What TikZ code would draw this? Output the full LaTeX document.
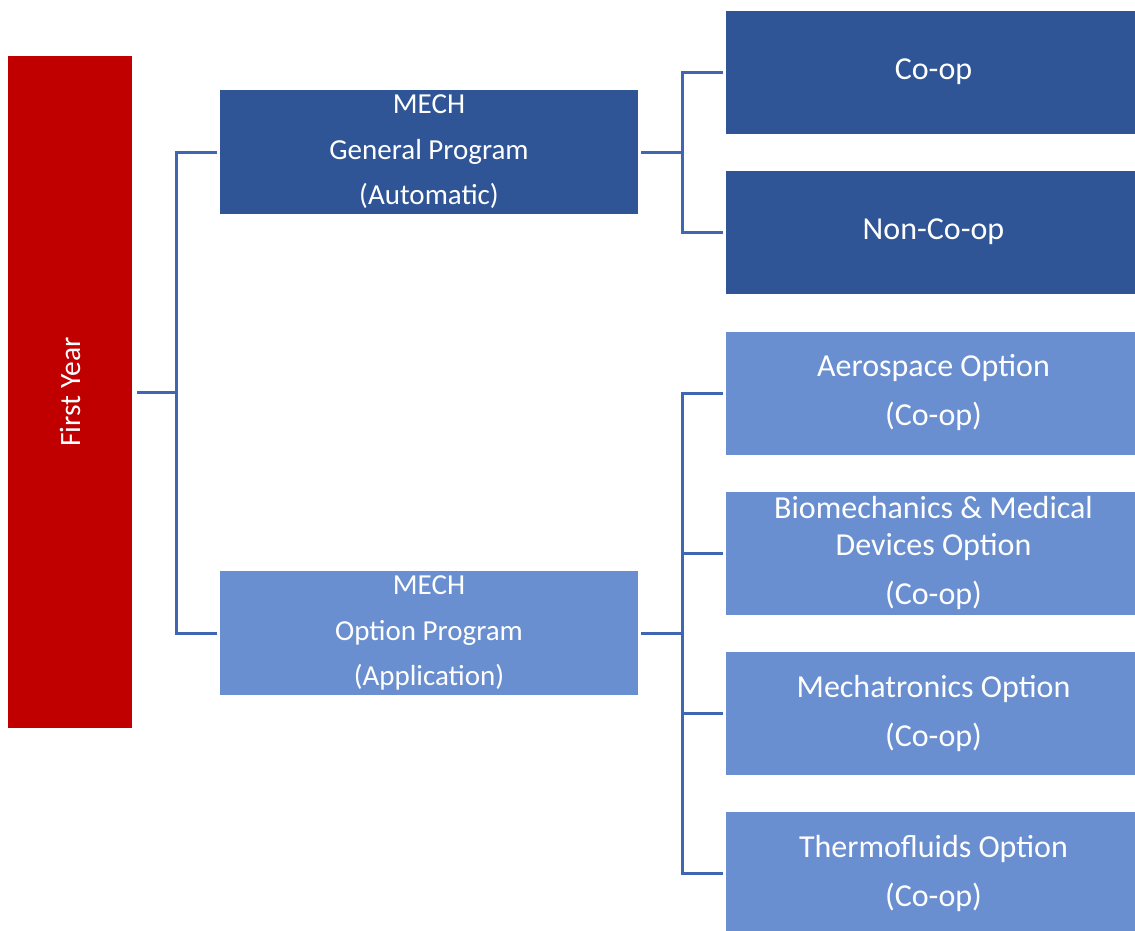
\documentclass[tikz,border=0pt]{standalone}
\usepackage{fontspec}
\setmainfont{Carlito}
\definecolor{fyred}{HTML}{C00000}
\definecolor{darkblue}{HTML}{2F5597}
\definecolor{lightblue}{HTML}{6A8FD0}
\definecolor{linkblue}{HTML}{3F66B3}
\begin{document}
\begin{tikzpicture}[x=1pt,y=-1pt,
  basebox/.style={rectangle, inner sep=0pt, outer sep=0pt, text=white, align=center},
  fybox/.style={basebox, fill=fyred, rotate=90, minimum width=672pt, minimum height=124pt, font=\fontsize{29.5}{34}\selectfont},
  midbox/.style={basebox, minimum width=418pt, minimum height=124pt, font=\fontsize{29}{45.5}\selectfont},
  rbox/.style={basebox, minimum width=409pt, minimum height=123pt, font=\fontsize{32}{37}\selectfont},
  conn/.style={draw=linkblue, line width=3pt}]
\clip (0,0) rectangle (1135,930);
\fill[white] (0,0) rectangle (1135,930);

\node[fybox] (fy) at (70,392) {First Year};

\node[midbox, fill=darkblue] (gen) at (429,152) {MECH\\General Program\\(Automatic)};
\node[midbox, fill=lightblue] (opt) at (429,633) {MECH\\Option Program\\(Application)};

\node[rbox, fill=darkblue] (coop) at (930.5,72) {\hspace*{6pt}Co-op};
\node[rbox, fill=darkblue] (noncoop) at (930.5,232) {\hspace*{6pt}Non-Co-op};
\node[rbox, fill=lightblue] (aero) at (930.5,393) {\hspace*{6pt}Aerospace Option\\[12pt]\hspace*{6pt}(Co-op)};
\node[rbox, fill=lightblue] (bio) at (930.5,553) {\hspace*{6pt}Biomechanics \& Medical\\\hspace*{6pt}Devices Option\\[12pt]\hspace*{6pt}(Co-op)};
\node[rbox, fill=lightblue] (mecha) at (930.5,713) {\hspace*{6pt}Mechatronics Option\\[12pt]\hspace*{6pt}(Co-op)};
\node[rbox, fill=lightblue] (thermo) at (930.5,873) {\hspace*{6pt}Thermofluids Option\\[12pt]\hspace*{6pt}(Co-op)};

\coordinate (j1) at (176,392);
\coordinate (j2) at (682,152);
\coordinate (j3) at (682,633);

\draw[conn] ([xshift=5pt]fy.south) -- (j1);
\draw[conn] ([xshift=-3pt]gen.west) -| (j1) |- ([xshift=-3pt]opt.west);

\draw[conn] ([xshift=3pt]gen.east) -- (j2);
\draw[conn] ([xshift=-3pt]coop.west) -| (j2) |- ([xshift=-3pt]noncoop.west);

\draw[conn] ([xshift=3pt]opt.east) -- (j3);
\draw[conn] ([xshift=-3pt]aero.west) -| (j3) |- ([xshift=-3pt]thermo.west);
\draw[conn] (j3 |- bio.west) -- ([xshift=-3pt]bio.west);
\draw[conn] (j3 |- mecha.west) -- ([xshift=-3pt]mecha.west);
\end{tikzpicture}
\end{document}
